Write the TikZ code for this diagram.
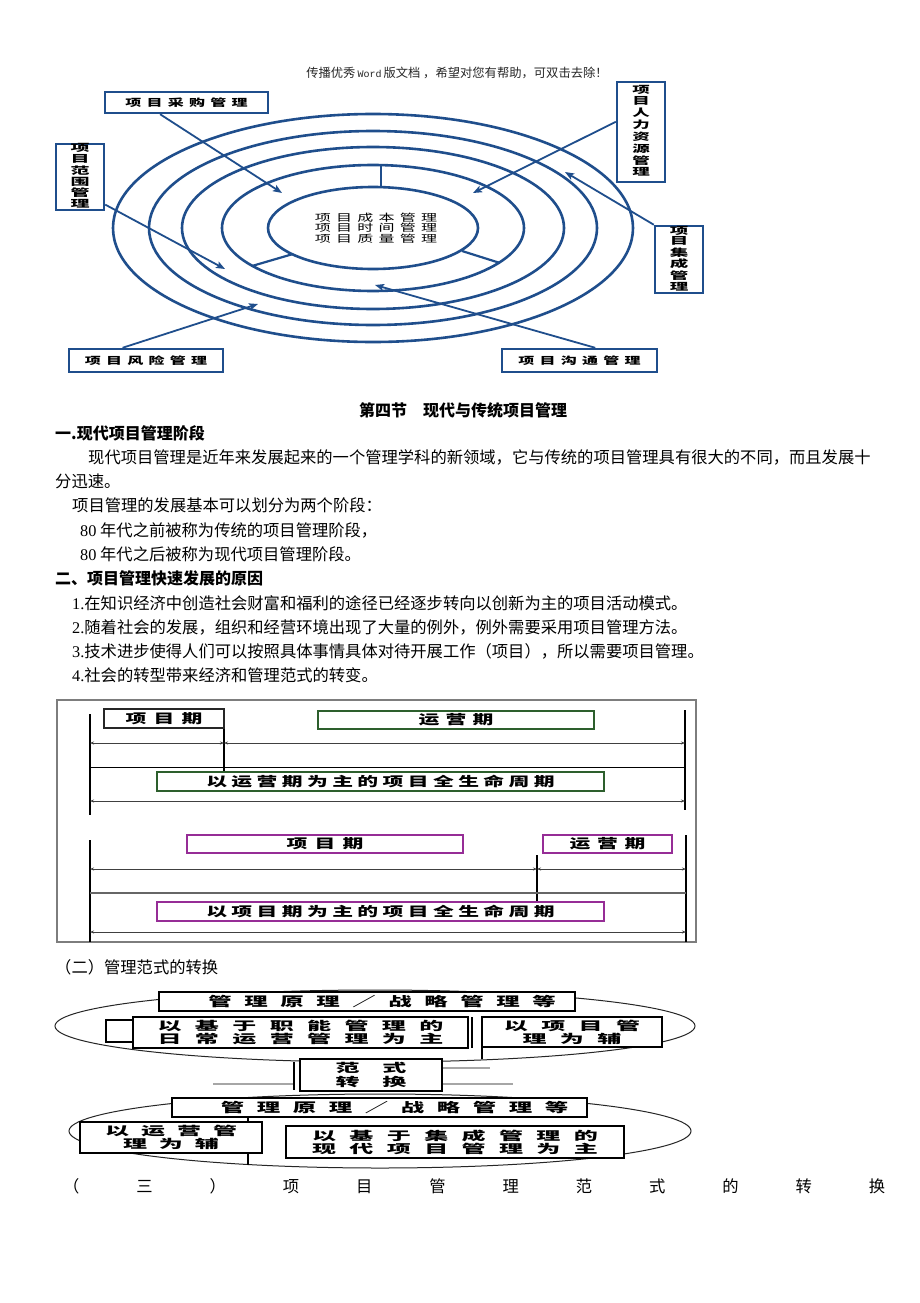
\documentclass[tikz,border=0pt]{standalone}
\usepackage{fontspec}
\usepackage{graphicx}
\setmainfont{Noto Sans CJK SC}
\newfontfamily\serf{Liberation Serif}
\newfontfamily\monof{Liberation Mono}
\usetikzlibrary{arrows.meta,calc}
\definecolor{eblue}{RGB}{31,78,140}
\definecolor{tgreen}{RGB}{45,95,45}
\definecolor{tpurple}{RGB}{150,45,150}
\definecolor{fgray}{RGB}{125,125,125}
\ExplSyntaxOn
\NewDocumentCommand\lsp{mm}{\tl_map_inline:nn{#2}{##1\hspace{#1}}\hspace{-#1}}
\ExplSyntaxOff
\newcommand\sx[3]{\scalebox{#1}[1]{\lsp{#2}{#3}}}
\newcommand\vtext[3]{\scalebox{#1}[1]{\bfseries\fontsize{10}{#2}\selectfont\begin{tabular}{@{}c@{}}#3\end{tabular}}}
\newcommand\elab[1]{{\bfseries\fontsize{10}{10}\selectfont\sx{1.6}{3.3pt}{#1}}}
\newcommand\tlab[2]{{\bfseries\fontsize{13}{13}\selectfont\sx{1.6}{#1}{#2}}}
\newcommand\plab[2]{\sx{2}{#1}{#2}}
\begin{document}
\begin{tikzpicture}[x=1pt,y=-1pt,
  ebox/.style={draw=eblue, line width=2.4pt, fill=white, inner sep=0pt},
  eline/.style={draw=eblue, line width=2.6pt},
  earrow/.style={draw=eblue, line width=1.8pt, -{Stealth[length=9pt,width=7pt,inset=2pt]}},
  tbox/.style={line width=1.1pt, fill=white, inner sep=0pt},
  tv/.style={draw=black, line width=1.8pt},
  tarrow/.style={draw=black!75, line width=0.7pt, {Stealth[length=4pt,width=3pt]}-{Stealth[length=4pt,width=3pt]}},
  pbox/.style={draw=black, line width=1.2pt, fill=white, inner sep=0pt, align=center, font=\bfseries\fontsize{12}{13}\selectfont},
  pell/.style={draw=black!85, line width=1pt},
  faint/.style={draw=black!35, line width=1.2pt},
  body/.style={anchor=base west, inner sep=0pt, font=\fontsize{16.3}{20}\selectfont},
  bodyb/.style={anchor=base west, inner sep=0pt, font=\bfseries\fontsize{16}{20}\selectfont}]
\fill[white] (0,0) rectangle (920,1303);
\useasboundingbox (0,0) rectangle (920,1303);

% header
\node[anchor=base, inner sep=0pt, text=black!85, font=\fontsize{12.3}{14}\selectfont] (hdr) at (457,78)
  {传播优秀\,{\monof\fontsize{10}{12}\selectfont Word}\,版文档 ，希望对您有帮助，可双击去除！};

% ---------- concentric ellipses ----------
\foreach \rx/\ry in {105/41,151/63,191/81,224/97,260/114}
  \draw[eline] (373,228) ellipse [x radius=\rx, y radius=\ry];
\draw[eline, line width=2.2pt] (381,165) -- (381,186);
\draw[eline, line width=2.2pt] (252,266) -- (293,254);
\draw[eline, line width=2.2pt] (462,251) -- (500,263);

\node[inner sep=0pt, align=center, font=\fontsize{10}{10.5}\selectfont] (core) at (376,228)
  {\sx{1.6}{3.3pt}{项目成本管理}\\\sx{1.6}{3.3pt}{项目时间管理}\\\sx{1.6}{3.3pt}{项目质量管理}};

\node[ebox, minimum width=163, minimum height=21] (pur) at (186.5,102.5) {\elab{项目采购管理}};
\node[ebox, minimum width=48, minimum height=64] (sco) at (80,177) {\vtext{1.9}{9.3}{项\\目\\范\\围\\管\\理}};
\node[ebox, minimum width=154, minimum height=23] (ris) at (146,360.5) {\elab{项目风险管理}};
\node[ebox, minimum width=48, minimum height=100] (hr) at (641,132) {\vtext{1.75}{11.1}{项\\目\\人\\力\\资\\源\\管\\理}};
\node[ebox, minimum width=48, minimum height=67] (integ) at (679,259.5) {\vtext{1.85}{9.3}{项\\目\\集\\成\\管\\理}};
\node[ebox, minimum width=155, minimum height=23] (comm) at (579.5,360.5) {\elab{项目沟通管理}};

\coordinate (hA) at (282,193);
\coordinate (hB) at (225,269);
\coordinate (hC) at (258,304);
\coordinate (hD) at (473,193);
\coordinate (hE) at (565,172);
\coordinate (hF) at (375,285);
\draw[earrow] ($(pur.south west)!0.34!(pur.south east)$) -- (hA);
\draw[earrow] ($(sco.north east)!0.9!(sco.south east)$) -- (hB);
\draw[earrow] ($(ris.north west)!0.35!(ris.north east)$) -- (hC);
\draw[earrow] ($(hr.north west)!0.4!(hr.south west)$) -- (hD);
\draw[earrow] (integ.north west) -- (hE);
\draw[earrow] ($(comm.north west)!0.6!(comm.north east)$) -- (hF);

% ---------- text ----------
\node[anchor=base, inner sep=0pt, font=\bfseries\fontsize{16}{20}\selectfont] (sec) at (463,416) {第四节　现代与传统项目管理};
\node[bodyb] (h1) at (55,439) {一.现代项目管理阶段};
\node[body] (p1) at (88,463) {现代项目管理是近年来发展起来的一个管理学科的新领域，它与传统的项目管理具有很大的不同，而且发展十};
\node[body] (p2) at (55,487) {分迅速。};
\node[body] (p3) at (72,511) {项目管理的发展基本可以划分为两个阶段：};
\node[body] (p4) at (80,536) {{\serf 80} 年代之前被称为传统的项目管理阶段，};
\node[body] (p5) at (80,560) {{\serf 80} 年代之后被称为现代项目管理阶段。};
\node[bodyb] (h2) at (55,584) {二、项目管理快速发展的原因};
\node[body] (r1) at (72,609) {{\serf 1.}在知识经济中创造社会财富和福利的途径已经逐步转向以创新为主的项目活动模式。};
\node[body] (r2) at (72,633) {{\serf 2.}随着社会的发展，组织和经营环境出现了大量的例外，例外需要采用项目管理方法。};
\node[body] (r3) at (72,657) {{\serf 3.}技术进步使得人们可以按照具体事情具体对待开展工作（项目），所以需要项目管理。};
\node[body] (r4) at (72,681) {{\serf 4.}社会的转型带来经济和管理范式的转变。};

% ---------- timeline ----------
\node[draw=fgray, line width=1.6pt, minimum width=639, minimum height=242, inner sep=0pt] (frame) at (376.5,821) {};
\draw[tv] (90,714) -- (90,815);
\draw[tv] (685,710) -- (685,810);
\draw[tv] (90,840) -- (90,942);
\draw[tv] (686,835) -- (686,942);
\draw[tv] (224,709) -- (224,772);
\draw[tv] (537,855) -- (537,902);
\draw[tarrow] (90,743) -- (224,743);
\draw[tarrow] (224,743) -- (685,743);
\draw[draw=black, line width=1pt] (90,767) -- (685,767);
\draw[tarrow] (90,801) -- (685,801);
\draw[tarrow] (90,869) -- (537,869);
\draw[tarrow] (537,869) -- (686,869);
\draw[draw=black!60, line width=1.2pt] (90,893) -- (686,893);
\draw[tarrow] (90,932) -- (686,932);

\node[tbox, draw=black!85, minimum width=120, minimum height=19] (tp1) at (164,718.5) {\tlab{4.5pt}{项目期}};
\node[tbox, draw=tgreen, minimum width=276, minimum height=18] (to1) at (456,720) {\tlab{3.9pt}{运营期}};
\node[tbox, draw=tgreen, minimum width=447, minimum height=19] (tl1) at (380.5,781.5) {\tlab{2.75pt}{以运营期为主的项目全生命周期}};
\node[tbox, draw=tpurple, minimum width=276, minimum height=18] (tp2) at (325,844) {\tlab{4.5pt}{项目期}};
\node[tbox, draw=tpurple, minimum width=129, minimum height=18] (to2) at (607.5,844) {\tlab{4.2pt}{运营期}};
\node[tbox, draw=tpurple, minimum width=447, minimum height=19] (tl2) at (380.5,911.5) {\tlab{2.75pt}{以项目期为主的项目全生命周期}};

% ---------- paradigm ----------
\node[body] (c2) at (55,973) {（二）管理范式的转换};

\draw[pell] (375,1026) ellipse [x radius=320, y radius=36];
\draw[pell] (380,1131) ellipse [x radius=311, y radius=37];
\draw[faint] (213,1084) -- (293,1084);
\draw[faint] (442,1084) -- (513,1084);
\draw[faint] (442,1068) -- (490,1068);
\draw[line width=1.3pt] (472,1017) -- (472,1048);
\draw[line width=1.2pt] (482,1017) -- (482,1059);
\draw[line width=1.2pt] (294,1062) -- (294,1090);
\draw[line width=1.2pt] (248,1117) -- (248,1165);

\node[pbox, minimum width=34, minimum height=22] (sq) at (123,1031) {};
\node[pbox, minimum width=416, minimum height=19, font=\bfseries\fontsize{13}{13}\selectfont] (pa1) at (367,1001.5)
  {\hspace*{30pt}\sx{1.8}{7pt}{管理原理／战略管理等}};
\node[pbox, minimum width=335, minimum height=31] (pa2) at (300.5,1032.5)
  {\plab{6.7pt}{以基于职能管理的}\\\plab{6.7pt}{日常运营管理为主}};
\node[pbox, minimum width=180, minimum height=30] (pa3) at (572,1032)
  {\plab{6.7pt}{以项目管}\\\plab{6.7pt}{理为辅}};
\node[pbox, minimum width=142, minimum height=32, font=\bfseries\fontsize{12}{14}\selectfont] (pc) at (371,1075)
  {\plab{11.5pt}{范式}\\\plab{11.5pt}{转换}};
\node[pbox, minimum width=415, minimum height=19, font=\bfseries\fontsize{13}{13}\selectfont] (pb1) at (379.5,1107.5)
  {\hspace*{30pt}\sx{1.8}{7pt}{管理原理／战略管理等}};
\node[pbox, minimum width=182, minimum height=31] (pb2) at (171,1137.5)
  {\plab{6pt}{以运营管}\\\plab{6pt}{理为辅}};
\node[pbox, minimum width=338, minimum height=32] (pb3) at (455,1142)
  {\plab{6.7pt}{以基于集成管理的}\\\plab{6.7pt}{现代项目管理为主}};

\node[body] (c3) at (63,1192) {\lsp{56.95pt}{（三）项目管理范式的转换}};
\end{tikzpicture}
\end{document}
